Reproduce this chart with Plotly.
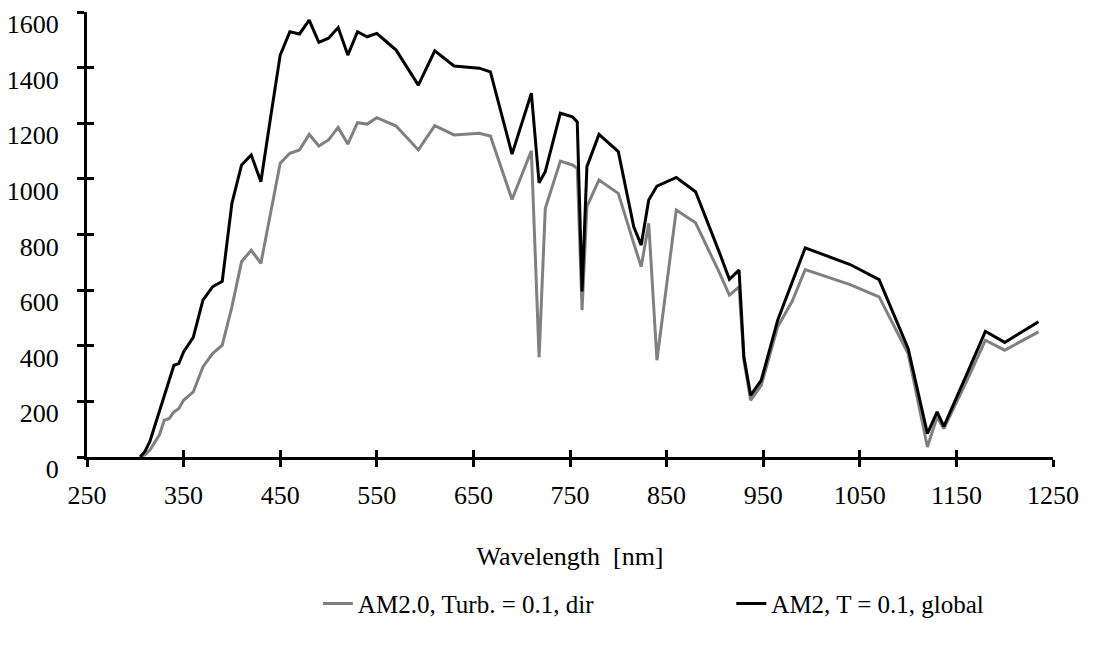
import plotly.graph_objects as go

wavelength = [305, 310, 315, 320, 325, 330, 335, 340, 345, 350, 360, 370, 380, 390, 400,
              410, 420, 430, 440, 450, 460, 470, 480, 490, 500, 510, 520, 530, 540, 550,
              560, 570, 593, 610, 630, 656, 667.6, 690, 710, 718, 724.4, 740, 752.5, 757.5,
              762.5, 767.5, 780, 800, 816, 823.7, 831.5, 840, 860, 880, 905, 915, 925, 930,
              937, 948, 965, 980, 993.5, 1040, 1070, 1100, 1120, 1130, 1137, 1161, 1180,
              1200, 1235]

direct = [0, 8, 24, 50, 80, 132, 138, 162, 174, 204, 234, 324, 372, 402, 540,
          702, 744, 696, 876, 1056, 1092, 1104, 1160, 1118, 1140, 1185, 1125, 1202, 1197, 1220,
          1205, 1190, 1104, 1191, 1158, 1164, 1154, 926, 1101, 359, 893, 1064, 1050, 1038,
          528, 900, 996, 948, 768, 684, 840, 348, 888, 842, 660, 582, 612, 348,
          204, 258, 468, 560, 674, 620, 576, 372, 36, 144, 102, 276, 420,
          384, 450]

global_ = [0, 20, 55, 110, 165, 218, 275, 330, 336, 378, 430, 564, 612, 632, 912,
           1050, 1086, 990, 1220, 1445, 1529, 1521, 1571, 1491, 1506, 1544, 1445, 1529, 1511, 1523,
           1493, 1463, 1337, 1460, 1406, 1398, 1385, 1089, 1308, 986, 1026, 1236, 1223, 1205,
           595, 1044, 1160, 1098, 828, 762, 924, 974, 1005, 954, 732, 639, 672, 360,
           222, 276, 492, 625, 752, 692, 638, 390, 84, 162, 110, 300, 452,
           412, 486]

series_names = ["AM2.0, Turb. = 0.1, dir", "AM2, T = 0.1, global"]

x_ticks = list(range(250, 1251, 100))
y_ticks = list(range(0, 1601, 200))

FONT = "Liberation Serif"

fig = go.Figure()
fig.add_trace(go.Scatter(x=wavelength, y=direct, mode="lines", name=series_names[0],
                         line=dict(color="#808080", width=3), legend="legend"))
fig.add_trace(go.Scatter(x=wavelength, y=global_, mode="lines", name=series_names[1],
                         line=dict(color="#000000", width=3), legend="legend2"))
# empty trace to carry the overlay axes (inside half of the crossing ticks)
fig.add_trace(go.Scatter(x=[], y=[], xaxis="x2", yaxis="y2", showlegend=False, hoverinfo="skip"))

tick_style = dict(showgrid=False, zeroline=False, tickcolor="black", tickwidth=3, ticklen=7,
                  automargin=False)
tickfont = dict(family=FONT, size=26, color="black")
legend_font = dict(family=FONT, size=25, color="black")

# page body adds an 8px margin, so the figure is sized/margined to compensate
fig.update_layout(
    width=1086, height=640,
    margin=dict(l=79, r=41, t=4, b=191, autoexpand=False),
    paper_bgcolor="white", plot_bgcolor="white",
    font=dict(family=FONT, size=26, color="black"),
    xaxis=dict(range=[250, 1250], tickvals=x_ticks, showline=True, linecolor="black",
               linewidth=3, ticks="outside", ticklabelstandoff=6, tickfont=tickfont,
               ticklabeloverflow="allow",
               title=dict(text="Wavelength  [nm]", standoff=38,
                          font=dict(family=FONT, size=26, color="black")),
               **tick_style),
    yaxis=dict(range=[0, 1600], tickvals=y_ticks, showline=True, linecolor="black",
               linewidth=3, ticks="outside", ticklabelstandoff=13, tickfont=tickfont,
               ticklabelshift=12, ticklabeloverflow="allow", **tick_style),
    xaxis2=dict(range=[250, 1250], tickvals=x_ticks, overlaying="x", anchor="y2",
                showticklabels=False, ticks="inside", showline=False, **tick_style),
    yaxis2=dict(range=[0, 1600], tickvals=y_ticks, overlaying="y", anchor="x2",
                showticklabels=False, ticks="inside", showline=False, **tick_style),
    showlegend=True,
    legend=dict(orientation="h", x=0.239, xanchor="left", y=-0.33, yanchor="middle",
                font=legend_font, bgcolor="rgba(0,0,0,0)"),
    legend2=dict(orientation="h", x=0.667, xanchor="left", y=-0.33, yanchor="middle",
                 font=legend_font, bgcolor="rgba(0,0,0,0)"),
)

fig.write_html("out.html")
